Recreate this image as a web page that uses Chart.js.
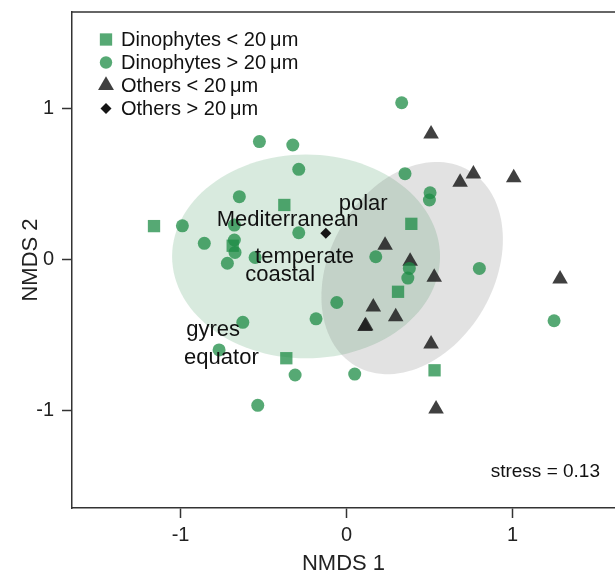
<!DOCTYPE html>
<html>
<head>
<meta charset="utf-8">
<script src="https://cdn.jsdelivr.net/npm/chart.js@4.4.1/dist/chart.umd.min.js"></script>
<style>
  html, body { margin: 0; padding: 0; background: #fff; overflow: hidden; }
</style>
</head>
<body>
<canvas id="nmds" width="615" height="573"></canvas>
<script>
// NMDS scores
const dinoSmallX = [-1.16, -0.375, -0.686, 0.39, 0.31, -0.363, 0.53];
const dinoSmallY = [0.22, 0.36, 0.09, 0.235, -0.215, -0.655, -0.735];

const dinoLargeX = [-0.525, -0.324, -0.288, -0.646, -0.989, -0.857, -0.288, -0.676, -0.676, -0.672,
                    -0.718, -0.551, 0.332, 0.352, 0.503, 0.499, 0.176, 0.378, 0.369, 0.80,
                    -0.059, -0.184, 1.25, -0.625, -0.768, -0.31, -0.535, 0.049];
const dinoLargeY = [0.78, 0.757, 0.596, 0.415, 0.222, 0.106, 0.176, 0.227, 0.128, 0.046,
                    -0.026, 0.012, 1.037, 0.567, 0.441, 0.393, 0.017, -0.06, -0.124, -0.06,
                    -0.286, -0.394, -0.407, -0.417, -0.60, -0.766, -0.967, -0.76];

const otherSmallX = [0.509, 0.764, 0.684, 1.007, 0.232, 0.383, 0.528, 1.286, 0.161, 0.296, 0.111, 0.115, 0.509, 0.539];
const otherSmallY = [0.83, 0.565, 0.51, 0.54, 0.093, -0.012, -0.119, -0.13, -0.316, -0.38, -0.445, -0.44, -0.561, -0.991];

const otherLargeX = [-0.125];
const otherLargeY = [0.172];

const groupLabels = ['Dinophytes < 20\u2009\u03bcm', 'Dinophytes > 20\u2009\u03bcm', 'Others < 20\u2009\u03bcm', 'Others > 20\u2009\u03bcm'];

// region names placed on the ordination
const regionNames = ['polar', 'Mediterranean', 'temperate', 'coastal', 'gyres', 'equator'];
const regionX = [0.10, -0.355, -0.253, -0.40, -0.804, -0.754];
const regionY = [0.37, 0.26, 0.017, -0.104, -0.468, -0.656];

// group ellipses: centre and the two semi-axis vectors, in NMDS units
const dinoEllipse = { cx: -0.244, cy: 0.019, ax: 0.807, ay: 0.0, bx: 0.0, by: 0.675 };
const otherEllipse = { cx: 0.395, cy: -0.058, ax: 0.340, ay: 0.648, bx: -0.428, by: 0.272 };

const xTicks = [-1, 0, 1];
const yTicks = [-1, 0, 1];
const stressText = 'stress = 0.13';

const FONT = '"Liberation Sans", Arial, Helvetica, sans-serif';
const GREEN = 'rgba(30,140,70,0.75)';
const DARK = 'rgba(30,30,30,0.85)';

function toPts(xs, ys) {
    return xs.map((x, i) => ({x: x, y: ys[i]}));
}

function fillEllipse(chart, e, color) {
    const xs = chart.scales.x, ys = chart.scales.y, ctx = chart.ctx;
    ctx.beginPath();
    for (let k = 0; k <= 120; k++) {
        const t = k / 120 * Math.PI * 2;
        const px = xs.getPixelForValue(e.cx + Math.cos(t) * e.ax + Math.sin(t) * e.bx);
        const py = ys.getPixelForValue(e.cy + Math.cos(t) * e.ay + Math.sin(t) * e.by);
        if (k === 0) ctx.moveTo(px, py); else ctx.lineTo(px, py);
    }
    ctx.closePath();
    ctx.fillStyle = color;
    ctx.fill();
}

const ellipsePlugin = {
    id: 'groupEllipses',
    beforeDatasetsDraw(chart) {
        const ctx = chart.ctx;
        ctx.save();
        fillEllipse(chart, dinoEllipse, 'rgba(76,160,105,0.22)');
        fillEllipse(chart, otherEllipse, 'rgba(110,110,110,0.2)');
        ctx.restore();
    }
};

const labelPlugin = {
    id: 'extras',
    afterDatasetsDraw(chart) {
        const ctx = chart.ctx, area = chart.chartArea;
        const xs = chart.scales.x, ys = chart.scales.y;
        ctx.save();
        // top of the frame
        ctx.strokeStyle = '#333';
        ctx.lineWidth = 1.5;
        ctx.beginPath();
        ctx.moveTo(area.left, area.top);
        ctx.lineTo(area.right, area.top);
        ctx.stroke();

        ctx.fillStyle = '#111';
        ctx.font = '22px ' + FONT;
        ctx.textAlign = 'center';
        ctx.textBaseline = 'middle';
        regionNames.forEach((name, i) => {
            ctx.fillText(name, xs.getPixelForValue(regionX[i]), ys.getPixelForValue(regionY[i]));
        });

        ctx.font = '19px ' + FONT;
        ctx.textAlign = 'right';
        ctx.fillText(stressText, area.right - 15, area.bottom - 36);

        // legend in the upper left corner
        const radii = [8.7, 6.2, 9.2, 5.5];
        ctx.font = '20px ' + FONT;
        ctx.textAlign = 'left';
        chart.data.datasets.forEach((ds, i) => {
            const y = area.top + 27.5 + i * 23;
            ctx.fillStyle = ds.backgroundColor;
            Chart.helpers.drawPoint(ctx, {pointStyle: ds.pointStyle, radius: radii[i], rotation: 0, borderWidth: 0}, area.left + 34, y);
            ctx.fillStyle = '#111';
            ctx.fillText(ds.label, area.left + 49, y + 1);
        });
        ctx.restore();
    }
};

const axisCommon = {
    type: 'linear',
    grid: { display: true, drawOnChartArea: false, drawTicks: true, tickLength: 10, tickWidth: 1.5, tickColor: '#333' },
    border: { display: true, color: '#333', width: 1.5 },
};

new Chart(document.getElementById('nmds'), {
    type: 'scatter',
    data: {
        datasets: [
            { label: groupLabels[0], data: toPts(dinoSmallX, dinoSmallY), pointStyle: 'rect', pointRadius: 8.7, backgroundColor: GREEN, borderWidth: 0 },
            { label: groupLabels[1], data: toPts(dinoLargeX, dinoLargeY), pointStyle: 'circle', pointRadius: 6.5, backgroundColor: GREEN, borderWidth: 0 },
            { label: groupLabels[2], data: toPts(otherSmallX, otherSmallY), pointStyle: 'triangle', pointRadius: 9, backgroundColor: DARK, borderWidth: 0 },
            { label: groupLabels[3], data: toPts(otherLargeX, otherLargeY), pointStyle: 'rectRot', pointRadius: 5.5, backgroundColor: '#151515', borderWidth: 0 },
        ]
    },
    options: {
        responsive: false,
        animation: false,
        layout: { autoPadding: false, padding: { top: 12, right: 0, left: 0, bottom: 0 } },
        plugins: { legend: { display: false }, tooltip: { enabled: false } },
        scales: {
            x: {
                ...axisCommon,
                position: 'bottom',
                min: -1.654,
                max: 1.617,
                afterBuildTicks: (axis) => { axis.ticks = xTicks.map(v => ({value: v})); },
                afterFit: (axis) => { axis.height = 65; axis.paddingLeft = 0; axis.paddingRight = 0; },
                ticks: { font: { size: 20, family: FONT }, color: '#222', padding: 5, maxRotation: 0, autoSkip: false },
                title: { display: true, text: 'NMDS 1', color: '#222', font: { size: 22, family: FONT }, padding: { top: 0, bottom: -4 } },
            },
            y: {
                ...axisCommon,
                position: 'left',
                min: -1.647,
                max: 1.638,
                afterBuildTicks: (axis) => { axis.ticks = yTicks.map(v => ({value: v})); },
                afterFit: (axis) => { axis.width = 72; axis.paddingTop = 0; axis.paddingBottom = 0; },
                ticks: { font: { size: 20, family: FONT }, color: '#222', padding: 8, autoSkip: false },
                title: { display: true, text: 'NMDS 2', color: '#222', font: { size: 22, family: FONT }, padding: { top: 18, bottom: 0 } },
            }
        }
    },
    plugins: [ellipsePlugin, labelPlugin]
});
</script>
</body>
</html>
